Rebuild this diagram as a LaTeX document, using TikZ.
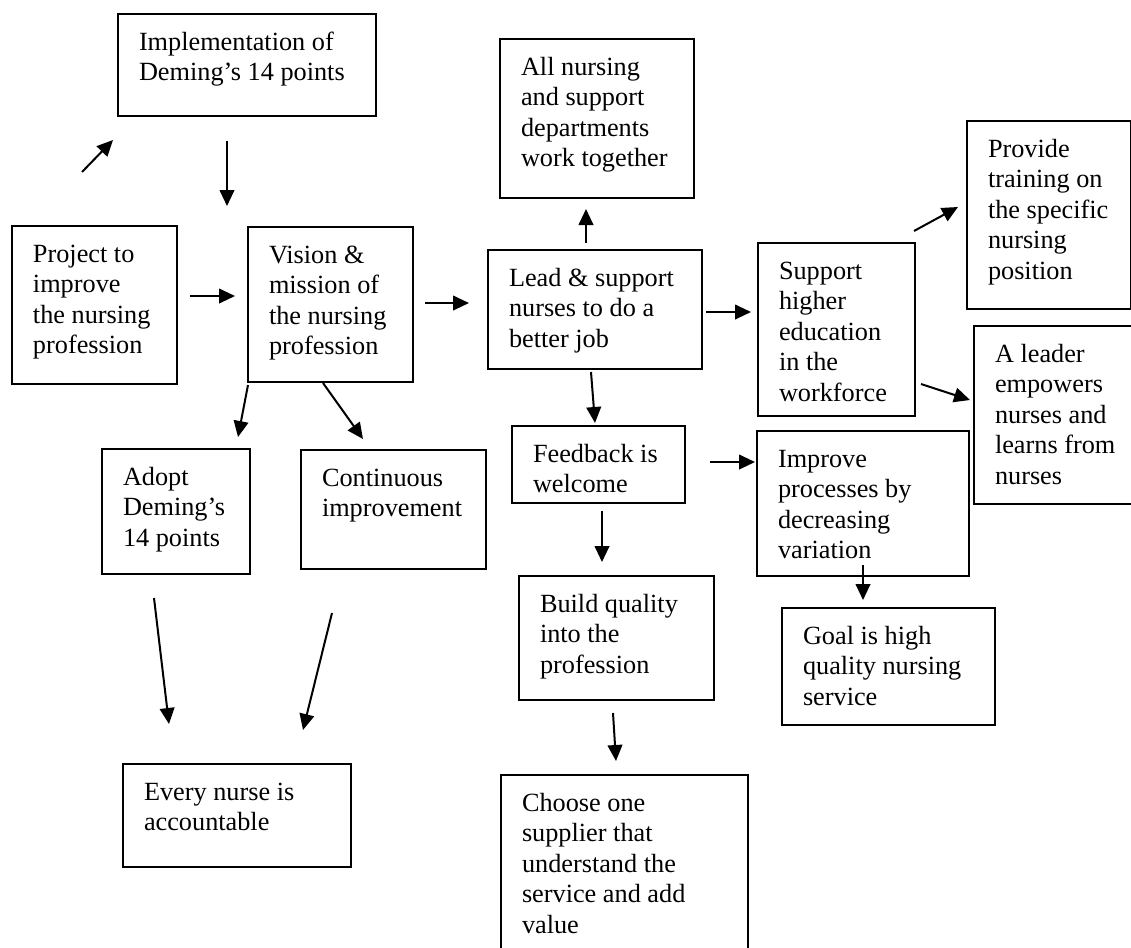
\documentclass[tikz,border=0pt]{standalone}
\usepackage{fontspec}
\setmainfont{Liberation Serif}
\usetikzlibrary{arrows.meta,calc}

% one drawing unit = one pixel of the sheet
\newdimen\pxu \pxu=0.75pt

% text block of a box: fixed size, text set from the top left corner
\newcommand\boxtext[3]{\parbox[t][#2\pxu][t]{#1\pxu}{\leftskip=21\pxu\parindent=0pt\rule{0pt}{36\pxu}#3}}
% \flowbox{name}{x}{y}{width}{height}{text}
\newcommand\flowbox[6]{\node[flowbox] (#1) at (#2,#3) {\boxtext{#4}{#5}{#6}};}

\tikzset{
  flowbox/.style={draw, line width=1.5pt, inner sep=0pt, anchor=north west,
    font=\fontsize{19.7pt}{22.9pt}\selectfont},
  arr/.style={line width=1.5pt, -{Triangle[length=12pt,width=11pt]}}
}

\begin{document}
\begin{tikzpicture}[x=0.75pt, y=-0.75pt]
\useasboundingbox (0,0) rectangle (1131,947);
\clip (0,0) rectangle (1131,947);

% boxes
\flowbox{impl}{117}{13}{258}{102}{Implementation of\\Deming’s 14 points}
\flowbox{proj}{11}{225}{165}{158}{Project to\\improve\\the nursing\\profession}
\flowbox{vis}{247}{226}{165}{155}{Vision \&\\mission of\\the nursing\\profession}
\flowbox{alln}{499}{38}{194}{159}{All nursing\\and support\\departments\\work together}
\flowbox{lead}{487}{249}{214}{119}{Lead \& support\\nurses to do a\\better job}
\flowbox{supp}{757}{242}{157}{173}{Support\\higher\\education\\in the\\workforce}
\flowbox{prov}{966}{120}{164}{188}{Provide\\training on\\the specific\\nursing\\position}
\flowbox{leader}{973}{325}{165}{178}{A leader\\empowers\\nurses and\\learns from\\nurses}
\flowbox{adopt}{101}{448}{148}{125}{Adopt\\Deming’s\\14 points}
\flowbox{cont}{300}{449}{185}{119}{Continuous\\improvement}
\flowbox{feed}{511}{425}{173}{77}{Feedback is\\welcome}
\flowbox{impr}{756}{430}{212}{145}{Improve\\processes by\\decreasing\\variation}
\flowbox{build}{518}{575}{195}{124}{Build quality\\into the\\profession}
\flowbox{goal}{781}{607}{213}{117}{Goal is high\\quality nursing\\service}
\flowbox{every}{122}{763}{228}{103}{Every nurse is\\accountable}
\flowbox{choose}{500}{774}{247}{190}{Choose one\\supplier that\\understand the\\service and add\\value}

% connectors, each end placed from its box's top left corner
\draw[arr] ($(proj.north west)+(71,-53)$) -- ($(impl.north west)+(-4,127)$);
\draw[arr] ($(impl.north west)+(110,128)$) -- ($(vis.north west)+(-20,-20)$);
\draw[arr] ($(proj.north west)+(179,71)$) -- ($(vis.north west)+(-12,70)$);
\draw[arr] ($(vis.north west)+(178,77)$) -- ($(lead.north west)+(-18,54)$);
\draw[arr] ($(lead.north west)+(99,-6)$) -- ($(alln.north west)+(87,171)$);
\draw[arr] ($(lead.north west)+(219,63)$) -- ($(supp.north west)+(-6,70)$);
\draw[arr] ($(supp.north west)+(157,-11)$) -- ($(prov.north west)+(-8,87)$);
\draw[arr] ($(supp.north west)+(164,142)$) -- ($(leader.north west)+(-3,75)$);
\draw[arr] ($(vis.north west)+(1,159)$) -- ($(adopt.north west)+(137,-11)$);
\draw[arr] ($(vis.north west)+(76,157)$) -- ($(cont.north west)+(63,-10)$);
\draw[arr] ($(adopt.north west)+(53,150)$) -- ($(every.north west)+(47,-39)$);
\draw[arr] ($(cont.north west)+(32,164)$) -- ($(every.north west)+(181,-33)$);
\draw[arr] ($(lead.north west)+(104,123)$) -- ($(feed.north west)+(84,-2)$);
\draw[arr] ($(feed.north west)+(199,37)$) -- ($(impr.north west)+(-1,32)$);
\draw[arr] ($(feed.north west)+(91,86)$) -- ($(build.north west)+(84,-13)$);
\draw[arr] ($(build.north west)+(95,138)$) -- ($(choose.north west)+(116,-13)$);
\draw[arr] ($(impr.north west)+(107,135)$) -- ($(goal.north west)+(82,-7)$);
\end{tikzpicture}
\end{document}
